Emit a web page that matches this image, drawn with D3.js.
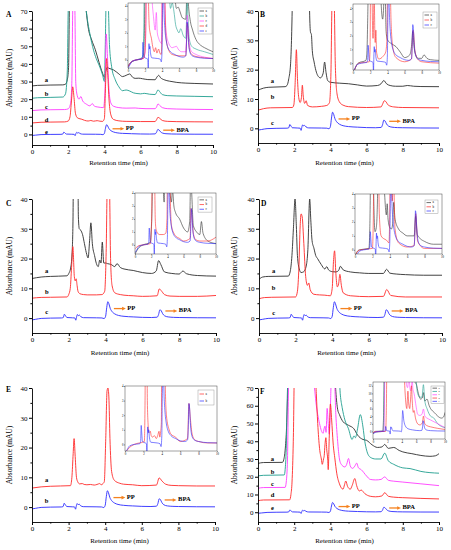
<!DOCTYPE html>
<html><head><meta charset="utf-8">
<script src="https://cdn.jsdelivr.net/npm/d3@7"></script>
<style>
body{margin:0;background:#fff}
svg{display:block}
text{font-family:"Liberation Serif","Times New Roman",serif}
</style>
</head><body>
<svg id="c" width="451" height="550"></svg>
<script>
// ---------------- DATA (retention time in min, absorbance in mAU, raw, before vertical offset) ----------------
const xTicks = [0, 2, 4, 6, 8, 10];
const yTicks70 = [0, 10, 20, 30, 40, 50, 60, 70];
const yTicks40 = [0, 10, 20, 30, 40];
const insetYTicks = [0, 1, 2, 3, 4];
const insetYTicksF = [0, 2, 4, 6, 8, 10, 12];

// standard solution trace (blue), identical in every panel
const stdTrace = [[0,-0.6],[0.2,-0.4],[0.5,-0.1],[1.0,0],[1.6,0.05],[1.7,0.2],[1.76,1.3],[1.82,0.8],[1.9,0.2],[2.2,0.1],[2.33,0.05],[2.38,-0.7],[2.43,0.6],[2.47,1.2],[2.52,0.8],[2.58,1.0],[2.65,0.5],[2.8,0.15],[3.5,0.1],[3.8,0.05],[3.92,-0.15],[4.0,0.6],[4.06,3.5],[4.12,5.5],[4.18,4.8],[4.25,3.3],[4.35,2.2],[4.5,1.4],[4.7,0.9],[5.0,0.6],[5.5,0.4],[6.0,0.25],[6.5,0.2],[6.8,0.3],[6.88,1.2],[6.95,2.8],[7.02,2.5],[7.1,1.5],[7.2,0.8],[7.4,0.4],[7.7,0.25],[8.0,0.2],[9,0.12],[10,0.1]];

// Panel A
const A_a = [[0,-0.5],[0.3,-0.2],[1.0,0],[1.7,0.1],[1.85,0.5],[1.95,3],[2.02,10],[2.08,50],[2.9,50],[3.0,41.5],[3.1,33],[3.3,25.5],[3.5,20],[3.7,13],[3.9,6.7],[4.0,4.4],[4.08,8],[4.15,10],[4.25,9.5],[4.5,8.6],[4.8,6.3],[5.0,4.8],[5.2,5.5],[5.4,6.3],[5.55,4.5],[5.7,3.8],[5.9,3.9],[6.1,3.6],[6.4,3.1],[6.8,3.0],[6.9,4.5],[7.0,5.5],[7.1,4.2],[7.3,3.0],[7.6,2.2],[8,1.5],[8.5,1.1],[9,0.9],[10,0.6]];
const A_b = [[0,-0.5],[0.3,-0.2],[1.0,0],[1.7,0.2],[1.85,2],[1.95,15],[2.0,49],[2.05,60],[2.9,60],[3.0,49],[3.2,36],[3.4,26.8],[3.55,22],[3.7,18.4],[3.9,12.7],[4.0,9],[4.05,30],[4.1,55],[4.2,55],[4.28,30],[4.4,17.4],[4.6,10],[4.8,6],[5.0,3.8],[5.2,4.2],[5.4,3.6],[5.6,2.6],[5.8,2.2],[6.0,2.0],[6.2,2.3],[6.5,1.8],[6.8,1.6],[6.88,2.8],[6.96,4.3],[7.05,3.3],[7.2,1.6],[7.5,1.0],[8,0.8],[9,0.6],[10,0.4]];
const A_c = [[0,-0.5],[0.5,-0.1],[1.0,0],[1.8,0.1],[2.0,0.5],[2.12,3],[2.2,15],[2.26,60],[2.36,60],[2.42,15],[2.5,8],[2.6,6],[2.7,7.5],[2.8,5],[3.0,3.2],[3.2,2.2],[3.33,3.5],[3.45,2.0],[3.6,1.6],[3.8,1.3],[3.95,1.2],[4.03,10],[4.1,43],[4.17,30],[4.25,12],[4.35,4],[4.5,2],[4.8,1.2],[5.2,0.9],[5.7,1.0],[5.9,0.8],[6.3,0.6],[6.8,0.6],[6.88,1.5],[6.96,3.3],[7.05,2.5],[7.2,1.2],[7.5,0.6],[8,0.4],[9,0.2],[10,0.1]];
const A_d = [[0,-0.5],[0.5,-0.1],[1.0,0],[1.8,0.1],[2.0,0.6],[2.1,3],[2.18,12],[2.25,20],[2.32,14],[2.4,5],[2.5,2.5],[2.6,2],[2.75,1.6],[2.9,1.0],[3.1,0.6],[3.25,0.9],[3.4,0.5],[3.6,0.8],[3.75,0.5],[3.9,0.4],[4.0,2],[4.06,20],[4.12,36],[4.18,28],[4.26,12],[4.36,4],[4.5,1.5],[4.8,0.7],[5.2,0.4],[6,0.3],[6.8,0.3],[6.88,1.3],[6.96,2.7],[7.05,2.2],[7.2,0.9],[7.5,0.4],[8,0.25],[9,0.15],[10,0.1]];
const offsetsA = [28, 21, 14, 7, 0];
const labelValsA = [30.4, 22.6, 15.2, 7.8, 1.2];

// Panel B
const B_a = [[0,-1],[0.3,-0.3],[0.6,0],[1.5,0.2],[1.6,0.6],[1.7,2.9],[1.8,8],[1.85,16],[1.9,30],[1.95,50],[2.8,50],[2.85,26],[2.9,18.8],[2.95,18],[3.0,12.5],[3.1,8.6],[3.2,5.7],[3.3,4.0],[3.45,3.2],[3.6,4.8],[3.68,8.6],[3.76,5],[3.85,2.3],[4.0,1.7],[4.5,1.4],[5,1.2],[5.5,0.8],[6,0.4],[6.6,0.6],[6.8,1.2],[6.95,2.3],[7.1,1.2],[7.3,0.6],[7.6,0.35],[8.0,0.35],[8.25,0.6],[8.6,0.35],[9,0.25],[10,0.2]];
const B_b = [[0,-0.8],[0.3,-0.3],[0.7,0],[1.9,0.1],[1.98,1],[2.05,8],[2.12,19.8],[2.18,10],[2.25,3.5],[2.33,1.8],[2.4,3.5],[2.45,7.7],[2.5,4],[2.58,1.5],[2.66,2.4],[2.74,0.8],[3.0,0.3],[3.5,0.5],[3.8,0.8],[3.95,1.8],[4.03,12],[4.1,38],[4.2,38],[4.27,15],[4.36,5],[4.5,2],[4.7,0.9],[5,0.4],[6,0.1],[6.8,0.3],[6.88,1.2],[6.98,2.4],[7.05,2.2],[7.2,0.9],[7.5,0.3],[8,0.1],[10,0]];
const offsetsB = [14, 7, 0];
const labelValsB = [16, 10.5, 1.5];

// Panel C
const C_a = [[0,-0.7],[0.5,-0.2],[1,0],[1.9,0.2],[2.0,1],[2.1,2.8],[2.18,8],[2.23,20],[2.27,50],[2.48,50],[2.52,20],[2.57,16],[2.65,15.5],[2.75,14],[2.85,11],[2.95,8],[3.05,6.2],[3.13,12],[3.2,18],[3.28,11],[3.4,7],[3.5,4.3],[3.6,3.3],[3.68,5.5],[3.75,4.5],[3.82,11.5],[3.9,4.5],[4.0,4.5],[4.1,4.3],[4.3,4],[4.5,3.3],[4.62,4.3],[4.8,3],[5.0,2.5],[5.5,2],[6.0,1.3],[6.5,1],[6.75,1.8],[6.88,5.3],[7.0,4],[7.2,1.5],[7.6,1.0],[8.0,0.8],[8.2,1.8],[8.4,0.9],[9,0.3],[10,0.1]];
const C_b = [[0,-0.3],[0.5,-0.05],[1,0],[1.9,0.1],[2.0,1],[2.08,3],[2.15,10],[2.22,17],[2.3,7],[2.35,5.5],[2.4,6.2],[2.45,4],[2.5,2],[2.6,1.2],[2.8,0.9],[3.0,0.8],[3.5,0.8],[3.8,0.9],[3.95,2],[4.03,15],[4.1,40],[4.2,40],[4.27,13],[4.35,4],[4.5,1.5],[4.8,0.9],[5.0,0.7],[5.5,0.5],[6.0,0.3],[6.8,0.5],[6.92,2.8],[7.05,2],[7.2,0.9],[7.5,0.4],[8,0.3],[9,0.3],[9.5,0.4],[10,0.6]];
const offsetsC = [14, 7, 0];
const labelValsC = [15.5, 8.6, 1.8];

// Panel D
const D_a = [[0,-1],[0.2,-0.2],[0.5,0],[1.6,0.1],[1.7,1.5],[1.8,7],[1.88,16],[1.97,26],[2.04,17],[2.1,7],[2.2,2.5],[2.3,1.3],[2.45,1.6],[2.58,3.5],[2.67,9],[2.77,26],[2.83,19],[2.9,12],[3.0,9.5],[3.1,7],[3.2,6],[3.4,4],[3.6,2.5],[3.7,3.3],[3.8,2.2],[4.0,1.6],[4.2,1.5],[4.35,2],[4.45,3.4],[4.6,2.2],[5.0,1.5],[5.5,1.2],[6.0,1.0],[6.8,1.0],[6.97,2.4],[7.15,1.1],[7.5,0.8],[8,0.6],[9,0.4],[10,0.4]];
const D_b = [[0,-0.5],[0.3,-0.1],[0.7,0],[2.0,0.1],[2.1,2],[2.18,10],[2.25,24],[2.3,28],[2.36,27],[2.45,18],[2.55,7],[2.65,4],[2.72,4.8],[2.8,2.5],[3.0,1],[3.3,0.8],[3.6,0.7],[3.9,0.5],[4.0,3],[4.07,12],[4.13,15.6],[4.2,8],[4.28,3.5],[4.35,4.5],[4.42,7.7],[4.5,4],[4.6,1.5],[5,0.5],[6,0.2],[6.8,0.3],[6.98,2.6],[7.2,0.6],[8,0.1],[10,0.1]];
const offsetsD = [14, 7, 0];
const labelValsD = [15.6, 9.8, 1.7];

// Panel E
const E_a = [[0,-0.6],[0.5,-0.2],[1,0],[2.1,0.2],[2.18,3],[2.25,11],[2.3,16],[2.36,10],[2.43,3],[2.5,1.5],[2.6,0.8],[2.75,0.9],[2.85,0.6],[3.0,0.5],[3.2,0.6],[3.4,0.4],[3.55,0.6],[3.7,0.9],[3.78,0.5],[3.88,0.9],[3.95,1.5],[4.03,16],[4.1,32],[4.15,33],[4.2,30],[4.26,16],[4.35,5],[4.5,2],[4.8,1.0],[5.0,0.7],[5.5,0.5],[6,0.2],[6.8,0.4],[6.95,2.8],[7.1,1.8],[7.3,0.7],[7.6,0.3],[8,0.2],[9,0.1],[10,0.1]];
const offsetsE = [7, 0];
const labelValsE = [8.9, 1.9];

// Panel F
const F_a = [[0,-0.5],[0.3,0],[1.35,0.1],[1.42,1.5],[1.5,7],[1.58,20],[1.66,45],[1.75,60],[4.2,60],[4.3,40],[4.4,30],[4.5,27],[4.7,23],[5.0,21],[5.3,19],[5.5,15.5],[5.8,13],[6.0,12.5],[6.3,10],[6.6,8.5],[6.85,8.8],[7.0,10.2],[7.2,8],[7.5,8.5],[7.8,6.8],[8.0,6],[8.5,5],[9,4],[9.5,3.5],[9.8,3.8],[10,5]];
const F_b = [[0,-0.5],[0.3,-0.2],[1.45,0],[1.5,3],[1.56,15],[1.62,45],[1.7,60],[4.45,60],[4.55,45],[4.65,38],[4.8,31],[5.0,26],[5.2,20],[5.3,22],[5.38,21],[5.5,26],[5.65,34],[5.8,27],[5.9,19],[6.0,14],[6.2,10],[6.5,9],[6.8,9],[7.0,12.3],[7.2,8],[7.5,6],[8,4],[8.4,3.6],[9,2],[10,1]];
const F_c = [[0,-0.5],[0.3,-0.1],[1.5,0],[1.56,3],[1.63,16],[1.7,60],[3.05,60],[3.12,56],[3.2,48],[3.3,41],[3.4,36],[3.5,32],[3.6,30.5],[3.65,33],[3.7,34.5],[3.76,31],[3.82,44.5],[3.88,36],[3.94,30],[4.0,45],[4.05,60],[4.22,60],[4.3,41],[4.4,26],[4.5,16],[4.6,13],[4.8,11.5],[4.9,13],[5.0,16.3],[5.1,12],[5.22,10.7],[5.35,12],[5.45,13.7],[5.55,11],[5.7,10],[6.0,6.4],[6.2,4.5],[6.5,4.2],[6.8,4.5],[7.0,5.9],[7.2,4],[7.5,3.5],[8,3],[9,2],[10,1]];
const F_d = [[0,-0.5],[0.3,-0.1],[1.75,0],[1.82,3],[1.88,10],[1.95,33],[2.02,75],[3.15,75],[3.22,60],[3.3,43],[3.4,29],[3.5,23],[3.55,20],[3.62,23],[3.66,25],[3.7,31],[3.75,35],[3.8,28],[3.85,23],[3.88,17],[3.93,33],[4.0,54],[4.07,45],[4.15,32],[4.25,23],[4.35,15],[4.5,9],[4.7,6],[4.78,8.5],[4.85,10.6],[4.95,7.5],[5.1,6],[5.2,8],[5.35,12],[5.45,8],[5.6,5],[5.7,5.5],[5.9,3.5],[6.2,2],[6.5,1.7],[6.85,2.2],[7.0,4],[7.2,2],[7.5,1.5],[8,1.2],[9,0.8],[10,0.5]];
const offsetsF = [28, 21, 14, 7, 0];
const labelValsF = [29.5, 22.6, 15.9, 9.2, 1.9];

const traceNames5 = ['a', 'b', 'c', 'd', 'e'];
const traceNames3 = ['a', 'b', 'c'];
const traceNames2 = ['a', 'b'];

// annotation: compound arrows (retention-time span and level)
const ppArrowSpan = [4.45, 5.1];
const bpaArrowSpan = [7.25, 7.9];
const ppLevel = 3.2, bpaLevel = 2.4;

// ---------------- STYLE / LAYOUT ----------------
const BLACK = '#2e2e2e', TEAL = '#1f9e8e', MAGENTA = '#ff3cff', RED = '#ff2828', BLUE = '#2a2aff', ORANGE = '#f5821f';

const panels = [
  { letter:'A', lx:6, ly:17, x0:32, x1:213, yTop:11, yBot:145, yDom:[-6,70], yTicks:yTicks70, yMinor:5, titleY:165, ylabX:10,
    traces:[A_a,A_b,A_c,A_d,stdTrace], names:traceNames5, colors:[BLACK,TEAL,MAGENTA,RED,BLUE], offsets:offsetsA, labelVals:labelValsA,
    inset:{x0:128, x1:213, yTop:3, yBot:68, yDom:[-0.6,4.2], yTicks:insetYTicks, leg:{x:198, y:8, w:14, eh:5}} },
  { letter:'B', lx:260, ly:17, x0:258, x1:439, yTop:11, yBot:143, yDom:[-5,40], yTicks:yTicks40, yMinor:5, titleY:165, ylabX:235,
    traces:[B_a,B_b,stdTrace], names:traceNames3, colors:[BLACK,RED,BLUE], offsets:offsetsB, labelVals:labelValsB,
    inset:{x0:353, x1:439, yTop:4, yBot:70, yDom:[-0.5,4.3], yTicks:insetYTicks, leg:{x:423, y:12, w:14, eh:5}} },
  { letter:'C', lx:6, ly:206, x0:32, x1:216, yTop:199, yBot:333, yDom:[-5,40], yTicks:yTicks40, yMinor:5, titleY:355, ylabX:10,
    traces:[C_a,C_b,stdTrace], names:traceNames3, colors:[BLACK,RED,BLUE], offsets:offsetsC, labelVals:labelValsC,
    inset:{x0:135, x1:216, yTop:193, yBot:254, yDom:[-0.7,4], yTicks:insetYTicks, leg:{x:198, y:197, w:14, eh:4.7}} },
  { letter:'D', lx:261, ly:206, x0:259, x1:442, yTop:199, yBot:333, yDom:[-5,40], yTicks:yTicks40, yMinor:5, titleY:355, ylabX:235,
    traces:[D_a,D_b,stdTrace], names:traceNames3, colors:[BLACK,RED,BLUE], offsets:offsetsD, labelVals:labelValsD,
    inset:{x0:355, x1:442, yTop:194, yBot:254, yDom:[-0.3,4], yTicks:insetYTicks, leg:{x:425, y:200, w:13, eh:4.2}} },
  { letter:'E', lx:6, ly:392, x0:32, x1:215, yTop:388, yBot:522, yDom:[-5,40], yTicks:yTicks40, yMinor:5, titleY:543, ylabX:10,
    traces:[E_a,stdTrace], names:traceNames2, colors:[RED,BLUE], offsets:offsetsE, labelVals:labelValsE,
    inset:{x0:125, x1:217, yTop:386, yBot:451, yDom:[-0.45,4], yTicks:insetYTicks, leg:{x:198, y:390, w:16, eh:7}} },
  { letter:'F', lx:260, ly:394, x0:258, x1:439, yTop:388, yBot:522, yDom:[-5.5,70], yTicks:yTicks70, yMinor:5, titleY:543, ylabX:235,
    traces:[F_a,F_b,F_c,F_d,stdTrace], names:traceNames5, colors:[BLACK,TEAL,MAGENTA,RED,BLUE], offsets:offsetsF, labelVals:labelValsF,
    inset:{x0:373, x1:445, yTop:382, yBot:439, yDom:[-2,13], yTicks:insetYTicksF, leg:{x:431, y:386, w:13, eh:3.3}} }
];

const svg = d3.select('#c');
const defs = svg.append('defs');
let clipN = 0;
function addClip(x, y, w, h) {
  const id = 'clip' + (clipN++);
  defs.append('clipPath').attr('id', id).append('rect').attr('x', x).attr('y', y).attr('width', w).attr('height', h);
  return id;
}
function styleAxis(g, fs) {
  g.attr('font-family', '"Liberation Serif","Times New Roman",serif').attr('font-size', fs);
  g.selectAll('path,line').attr('stroke', '#000');
  g.selectAll('text').attr('fill', '#000');
}

panels.forEach(p => {
  const x = d3.scaleLinear().domain([0, 10]).range([p.x0, p.x1]);
  const y = d3.scaleLinear().domain(p.yDom).range([p.yBot, p.yTop]);
  const g = svg.append('g');

  // traces
  const cid = addClip(p.x0, p.yTop, p.x1 - p.x0, p.yBot - p.yTop);
  const tg = g.append('g').attr('clip-path', `url(#${cid})`);
  p.traces.forEach((tr, i) => {
    const off = p.offsets[i];
    const line = d3.line().x(d => x(d[0])).y(d => y(d[1] + off)).curve(d3.curveMonotoneX);
    tg.append('path').attr('d', line(tr)).attr('fill', 'none').attr('stroke', p.colors[i]).attr('stroke-width', 0.9).attr('stroke-linejoin', 'round');
  });

  // axes
  const xMinor = d3.range(1, 10, 2);
  const gx = g.append('g').attr('transform', `translate(0,${p.yBot})`)
    .call(d3.axisBottom(x).tickValues(xTicks).tickSize(3).tickSizeOuter(0).tickPadding(1.2).tickFormat(d3.format('d')));
  styleAxis(gx, 7);
  gx.select('.domain').attr('stroke-width', 0.9);
  const gxm = g.append('g').attr('transform', `translate(0,${p.yBot})`)
    .call(d3.axisBottom(x).tickValues(xMinor).tickSize(1.6).tickSizeOuter(0).tickFormat(''));
  gxm.select('.domain').remove(); styleAxis(gxm, 7);

  const gy = g.append('g').attr('transform', `translate(${p.x0},0)`)
    .call(d3.axisLeft(y).tickValues(p.yTicks).tickSize(3).tickSizeOuter(0).tickPadding(1.5).tickFormat(d3.format('d')));
  styleAxis(gy, 7);
  gy.select('.domain').attr('stroke-width', 0.9);
  const yMinorVals = d3.range(p.yTicks[0] + p.yMinor, p.yTicks[p.yTicks.length - 1], 10);
  const gym = g.append('g').attr('transform', `translate(${p.x0},0)`)
    .call(d3.axisLeft(y).tickValues(yMinorVals).tickSize(1.6).tickSizeOuter(0).tickFormat(''));
  gym.select('.domain').remove(); styleAxis(gym, 7);

  // axis titles
  g.append('text').attr('x', (p.x0 + p.x1) / 2 - 4).attr('y', p.titleY).attr('text-anchor', 'middle')
    .attr('font-size', 7).text('Retention time (min)');
  g.append('text').attr('transform', `translate(${p.ylabX},${(p.yTop + p.yBot) / 2}) rotate(-90)`)
    .attr('text-anchor', 'middle').attr('dominant-baseline', 'middle').attr('font-size', 7.4).text('Absorbance (mAU)');

  // panel letter
  g.append('text').attr('x', p.lx).attr('y', p.ly).attr('font-size', 7.5).attr('font-weight', 'bold').text(p.letter);

  // trace letters
  p.names.forEach((n, i) => {
    g.append('text').attr('x', x(0.8)).attr('y', y(p.labelVals[i])).attr('text-anchor', 'middle')
      .attr('dominant-baseline', 'middle').attr('font-size', 6.5).attr('font-weight', 'bold').text(n);
  });

  // compound arrows
  [[ppArrowSpan, ppLevel, 'PP'], [bpaArrowSpan, bpaLevel, 'BPA']].forEach(([span, lev, lab]) => {
    const xa = x(span[0]), xb = x(span[1]), ya = y(lev);
    g.append('line').attr('x1', xa).attr('x2', xb - 3).attr('y1', ya).attr('y2', ya)
      .attr('stroke', ORANGE).attr('stroke-width', 1.3);
    g.append('path').attr('d', `M${xb},${ya} L${xb - 3.8},${ya - 1.8} L${xb - 3.8},${ya + 1.8} Z`).attr('fill', ORANGE);
    g.append('text').attr('x', xb + 1.5).attr('y', ya).attr('dominant-baseline', 'middle')
      .attr('font-size', 6.5).attr('font-weight', 'bold').text(lab);
  });

  // inset
  const ins = p.inset;
  const xi = d3.scaleLinear().domain([0, 10]).range([ins.x0, ins.x1]);
  const yi = d3.scaleLinear().domain(ins.yDom).range([ins.yBot, ins.yTop]);
  const ig = svg.append('g');
  ig.append('rect').attr('x', ins.x0).attr('y', ins.yTop).attr('width', ins.x1 - ins.x0).attr('height', ins.yBot - ins.yTop)
    .attr('fill', '#fff');
  const icid = addClip(ins.x0, ins.yTop, ins.x1 - ins.x0, ins.yBot - ins.yTop);
  const itg = ig.append('g').attr('clip-path', `url(#${icid})`);
  p.traces.forEach((tr, i) => {
    const line = d3.line().x(d => xi(d[0])).y(d => yi(d[1])).curve(d3.curveMonotoneX);
    itg.append('path').attr('d', line(tr)).attr('fill', 'none').attr('stroke', p.colors[i]).attr('stroke-width', 0.6);
  });
  ig.append('rect').attr('x', ins.x0).attr('y', ins.yTop).attr('width', ins.x1 - ins.x0).attr('height', ins.yBot - ins.yTop)
    .attr('fill', 'none').attr('stroke', '#444').attr('stroke-width', 0.5);
  const gxi = ig.append('g').attr('transform', `translate(0,${ins.yBot})`)
    .call(d3.axisBottom(xi).tickValues(xTicks).tickSize(1).tickSizeOuter(0).tickPadding(0.5).tickFormat(d3.format('d')));
  styleAxis(gxi, 3); gxi.select('.domain').remove(); gxi.selectAll('line').attr('stroke-width', 0.4);
  const gyi = ig.append('g').attr('transform', `translate(${ins.x0},0)`)
    .call(d3.axisLeft(yi).tickValues(ins.yTicks).tickSize(1).tickSizeOuter(0).tickPadding(0.5).tickFormat(d3.format('d')));
  styleAxis(gyi, 3); gyi.select('.domain').remove(); gyi.selectAll('line').attr('stroke-width', 0.4);

  // inset legend
  const L = ins.leg;
  const n = p.names.length;
  ig.append('rect').attr('x', L.x).attr('y', L.y).attr('width', L.w).attr('height', L.eh * n + 1)
    .attr('fill', '#fff').attr('stroke', '#888').attr('stroke-width', 0.4);
  p.names.forEach((nm, i) => {
    const yy = L.y + 0.5 + (i + 0.5) * L.eh;
    ig.append('line').attr('x1', L.x + 1.5).attr('x2', L.x + 6).attr('y1', yy).attr('y2', yy)
      .attr('stroke', p.colors[i]).attr('stroke-width', 0.7);
    ig.append('text').attr('x', L.x + 7.5).attr('y', yy).attr('dominant-baseline', 'middle')
      .attr('font-size', Math.min(3.2, L.eh * 0.8)).text(nm);
  });
});
</script>
</body></html>
